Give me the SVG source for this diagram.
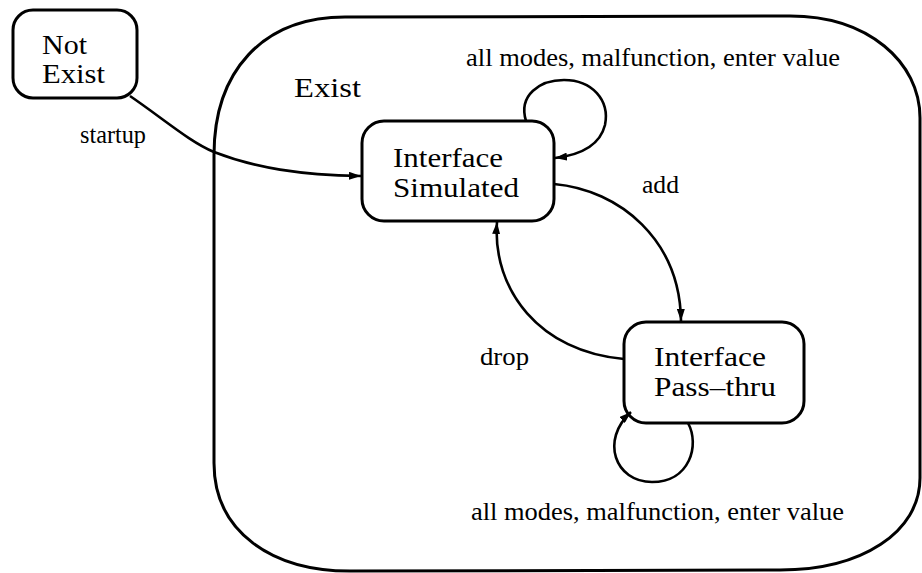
<svg xmlns="http://www.w3.org/2000/svg" width="922" height="573" viewBox="0 0 922 573">
<style>
.box{fill:#fff;stroke:#000;stroke-width:3}
.outer{fill:none;stroke:#000;stroke-width:3}
.edge{fill:none;stroke:#000;stroke-width:2.6}
.nl{font-family:"Liberation Serif","Times New Roman",serif;font-size:28px;fill:#000}
.el{font-family:"Liberation Serif","Times New Roman",serif;font-size:25px;fill:#000}
</style>
<defs>
<marker id="ah" viewBox="0 0 12 8" refX="12" refY="4" markerWidth="12" markerHeight="8" markerUnits="userSpaceOnUse" orient="auto">
<path d="M0,0 L12,4 L0,8 Z" fill="#000"/>
</marker>
</defs>
<g id="exist">
<path class="outer" d="M214,463 L214,155 C214,72 262,17 345,17 L790,16 C868,16 920,62 920,118 L920,478 C920,532 862,570 780,570 L350,571 C272,571 214,532 214,463 Z"/>
<text class="nl" x="294" y="97" textLength="67" lengthAdjust="spacingAndGlyphs">Exist</text>
</g>
<g id="not-exist">
<rect class="box" x="13" y="10" width="124" height="88" rx="20"/>
<text class="nl" x="42" y="54" textLength="45" lengthAdjust="spacingAndGlyphs">Not</text>
<text class="nl" x="42" y="83" textLength="63" lengthAdjust="spacingAndGlyphs">Exist</text>
</g>
<g id="simulated">
<rect class="box" x="362" y="121" width="192" height="100" rx="22"/>
<text class="nl" x="393" y="167" textLength="110" lengthAdjust="spacingAndGlyphs">Interface</text>
<text class="nl" x="393" y="197" textLength="126" lengthAdjust="spacingAndGlyphs">Simulated</text>
</g>
<g id="pass-thru">
<rect class="box" x="624" y="322" width="180" height="101" rx="22"/>
<text class="nl" x="654" y="366" textLength="112" lengthAdjust="spacingAndGlyphs">Interface</text>
<text class="nl" x="654" y="396" textLength="122" lengthAdjust="spacingAndGlyphs">Pass–thru</text>
</g>
<g id="connectors">
<path class="edge" marker-end="url(#ah)" d="M130,96 C165,120 190,142 214,152 C255,168 300,175 361,176"/>
<path class="edge" marker-end="url(#ah)" d="M526,121 C518,95 540,80 564,80 C592,80 610,100 605,125 C600,145 580,155 555,158"/>
<path class="edge" marker-end="url(#ah)" d="M554,184 C620,190 680,240 681,321"/>
<path class="edge" marker-end="url(#ah)" d="M624,359 C540,352 492,290 497,222"/>
<path class="edge" marker-end="url(#ah)" d="M688,423 C700,445 690,482 652,482 C615,482 600,440 631,412"/>
<text class="el" x="80" y="143" textLength="66" lengthAdjust="spacingAndGlyphs">startup</text>
<text class="el" x="466" y="66" textLength="374" lengthAdjust="spacingAndGlyphs">all modes, malfunction, enter value</text>
<text class="el" x="642" y="193" textLength="37" lengthAdjust="spacingAndGlyphs">add</text>
<text class="el" x="480" y="365" textLength="49" lengthAdjust="spacingAndGlyphs">drop</text>
<text class="el" x="471" y="520" textLength="373" lengthAdjust="spacingAndGlyphs">all modes, malfunction, enter value</text>
</g>
</svg>
